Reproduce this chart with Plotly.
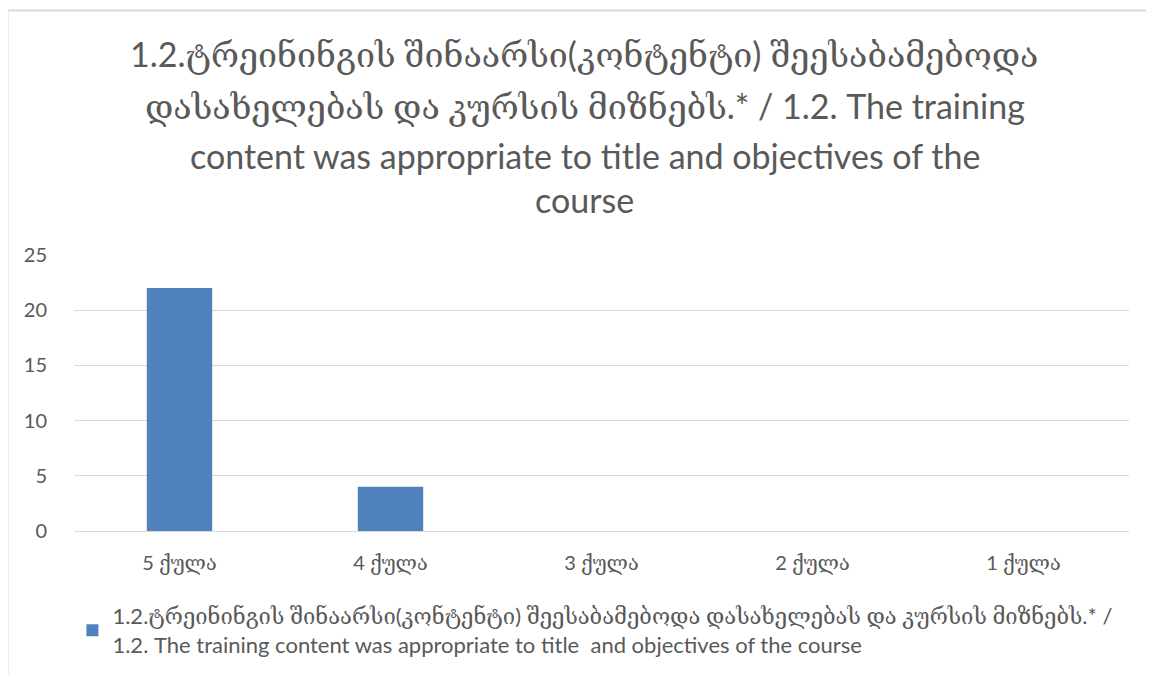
import plotly.graph_objects as go

# values
categories = ["5 ქულა", "4 ქულა", "3 ქულა", "2 ქულა", "1 ქულა"]
counts = [22, 4, 0, 0, 0]
y_ticks = [0, 5, 10, 15, 20, 25]

series_name = ("1.2.ტრეინინგის შინაარსი(კონტენტი) შეესაბამებოდა დასახელებას და კურსის მიზნებს.* /<br>"
               "1.2. The training content was appropriate to title  and objectives of the course")
title_lines = ["1.2.ტრეინინგის შინაარსი(კონტენტი) შეესაბამებოდა",
               "დასახელებას და კურსის მიზნებს.* / 1.2. The training",
               "content was appropriate to title and objectives of the",
               "course"]
title_y = [1.73, 1.54, 1.362, 1.202]  # paper positions of the title rows

FONT = "Lato, DejaVu Serif, DejaVu Sans"
GREY = "#595959"
GRID = "#d9d9d9"

fig = go.Figure()
fig.add_trace(go.Bar(x=categories, y=counts, name=series_name,
                     marker=dict(color="#4f81bd", line=dict(width=0)),
                     showlegend=True))

# the page body adds an 8px offset, margins account for it
fig.update_layout(
    width=1154, height=675,
    margin=dict(l=66, r=33, t=247, b=152, autoexpand=False),
    paper_bgcolor="white", plot_bgcolor="white",
    bargap=0.69,
    font=dict(family=FONT, color=GREY, size=20),
    legend=dict(orientation="h", x=-0.0015, xanchor="left",
                y=-0.232, yanchor="top",
                font=dict(family=FONT, size=22, color=GREY)),
)

# multi-line title, one annotation per row so the row spacing can match
for line, yy in zip(title_lines, title_y):
    fig.add_annotation(text=line, xref="paper", yref="paper",
                       x=0.484, y=yy, xanchor="center", yanchor="middle",
                       showarrow=False,
                       font=dict(family=FONT, size=34, color=GREY))

fig.update_yaxes(range=[0, 25], tickvals=y_ticks, showgrid=True,
                 gridcolor=GRID, gridwidth=1, zeroline=False,
                 showline=False, ticks="", ticklabelstandoff=26,
                 tickfont=dict(size=20, color=GREY))
fig.update_xaxes(showline=True, linecolor=GRID, linewidth=1,
                 ticks="", ticklabelstandoff=14,
                 tickfont=dict(size=20, color=GREY))

# light chart frame (top and left edges visible in the crop)
fig.add_shape(type="line", xref="paper", yref="paper",
              x0=-0.063, x1=1.1, y0=1.886, y1=1.886,
              line=dict(color=GRID, width=2))
fig.add_shape(type="line", xref="paper", yref="paper",
              x0=-0.063, x1=-0.063, y0=1.886, y1=-0.6,
              line=dict(color=GRID, width=2))

fig.write_html("out.html")
